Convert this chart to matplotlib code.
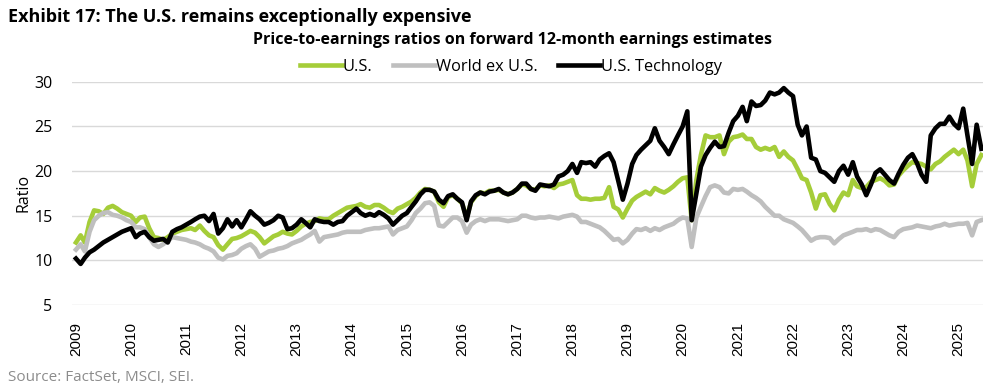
import matplotlib
matplotlib.use("Agg")
import matplotlib.pyplot as plt
import pandas as pd

plt.rcParams['font.family'] = ['Open Sans', 'DejaVu Sans']

# monthly readings, Jan 2009 .. Jun 2025
us = [
    12.0, 12.8, 12.0, 14.3, 15.6, 15.5, 15.2, 15.9, 16.1, 15.8, 15.4, 15.2,
    15.0, 14.3, 14.8, 14.9, 13.6, 12.6, 12.5, 12.3, 12.6, 13.0, 13.2, 13.4,
    13.5, 13.6, 13.4, 13.9, 13.3, 12.8, 12.6, 11.7, 11.2, 11.8, 12.4, 12.5,
    12.7, 13.0, 13.3, 13.1, 12.6, 11.9, 12.3, 12.7, 12.9, 13.2, 13.0, 12.9,
    13.3, 13.8, 14.1, 14.3, 14.4, 14.7, 14.6, 14.6, 15.0, 15.3, 15.6, 15.9,
    16.0, 16.1, 16.3, 16.0, 15.9, 16.2, 16.2, 15.9, 15.5, 15.3, 15.8, 16.0,
    16.3, 16.6, 17.0, 17.6, 18.0, 17.9, 17.7, 16.5, 16.0, 17.1, 17.3, 16.9,
    16.4, 14.8, 16.5, 17.2, 17.6, 17.5, 17.8, 17.8, 17.9, 17.6, 17.4, 17.6,
    18.0, 18.5, 18.4, 18.0, 17.9, 18.4, 18.3, 18.4, 18.1, 18.5, 18.6, 18.8,
    19.0, 17.3, 16.9, 16.9, 16.8, 16.9, 16.9, 17.0, 18.2, 16.0, 15.7, 14.8,
    15.8, 16.7, 17.1, 17.4, 17.7, 17.4, 18.1, 17.8, 17.6, 17.9, 18.3, 18.8,
    19.2, 19.3, 14.5, 19.0, 21.8, 24.0, 23.8, 23.8, 24.0, 21.9, 23.3, 23.8,
    23.9, 24.1, 23.6, 23.6, 22.7, 22.4, 22.6, 22.4, 22.7, 21.6, 22.2, 21.6,
    21.2, 20.2, 19.2, 19.0, 17.6, 15.8, 17.3, 17.4, 16.3, 15.6, 16.8, 17.6,
    17.3, 19.0, 18.3, 18.1, 18.2, 18.8, 19.0, 19.2, 18.9, 18.4, 18.5, 19.5,
    20.1, 20.6, 21.0, 20.9, 20.8, 20.5, 20.2, 20.8, 21.1, 21.6, 22.0, 22.4,
    21.9, 22.4, 21.2, 18.3, 20.8, 21.8,
]

world_ex_us = [
    11.2, 11.8, 11.0, 13.2, 14.5, 15.0, 15.3, 15.4, 15.1, 15.0, 14.8, 14.5,
    14.3, 13.7, 13.7, 13.5, 12.6, 11.8, 11.5, 11.8, 12.2, 12.6, 12.5, 12.4,
    12.3, 12.1, 12.0, 11.8, 11.5, 11.3, 11.0, 10.3, 10.1, 10.5, 10.6, 10.8,
    11.3, 11.6, 11.8, 11.3, 10.4, 10.7, 11.0, 11.1, 11.3, 11.4, 11.6, 11.9,
    12.1, 12.3, 12.6, 12.9, 13.3, 12.1, 12.6, 12.7, 12.8, 12.9, 13.1, 13.2,
    13.2, 13.2, 13.2, 13.4, 13.5, 13.6, 13.6, 13.7, 13.8, 12.9, 13.4, 13.6,
    13.8, 14.5, 15.3, 15.8, 16.4, 16.5, 16.1, 13.9, 13.8, 14.3, 14.8, 14.8,
    14.4, 13.1, 14.0, 14.4, 14.6, 14.4, 14.6, 14.6, 14.6, 14.5, 14.4, 14.5,
    14.6, 15.0, 15.0, 14.8, 14.7, 14.8, 14.8, 14.9, 14.8, 14.7, 14.9, 15.0,
    15.1, 14.9, 14.3, 14.3, 14.1, 13.9, 13.7, 13.3, 12.8, 12.3, 12.4, 11.9,
    12.3, 13.0, 13.5, 13.4, 13.6, 13.3, 13.6, 13.4, 13.7, 13.9, 14.1, 14.5,
    14.8, 14.7, 11.5, 14.8, 16.0, 17.2, 18.2, 18.4, 18.2, 17.6, 17.5, 18.0,
    17.9, 18.0, 17.7, 17.3, 17.0, 16.6, 16.0, 15.5, 15.0, 15.0, 14.6, 14.4,
    14.2, 13.8, 13.4, 12.8, 12.2, 12.5, 12.6, 12.6, 12.5, 11.9, 12.4, 12.8,
    13.0, 13.2, 13.4, 13.4, 13.5, 13.3, 13.5, 13.4, 13.1, 12.8, 12.6, 13.2,
    13.5, 13.6, 13.7, 13.9, 13.8, 13.7, 13.6, 13.8, 13.9, 14.1, 13.9, 14.0,
    14.1, 14.1, 14.2, 12.8, 14.3, 14.5,
]

us_tech = [
    10.2, 9.6, 10.3, 10.9, 11.2, 11.6, 12.0, 12.3, 12.6, 12.9, 13.2, 13.4,
    13.6, 12.6, 13.0, 13.2, 12.6, 12.2, 12.3, 12.4, 12.0, 13.2, 13.5, 13.7,
    14.0, 14.3, 14.6, 14.9, 15.0, 14.4, 15.2, 13.0, 13.6, 14.6, 13.8, 14.5,
    13.7, 14.6, 15.5, 15.0, 14.6, 14.0, 14.2, 14.5, 15.0, 14.8, 13.5, 13.6,
    14.0, 14.6, 14.2, 13.7, 14.6, 14.4, 14.3, 14.3, 14.0, 14.3, 14.4, 15.0,
    15.4, 15.8, 15.3, 15.0, 15.2, 15.0, 15.4, 15.1, 14.7, 14.0, 14.5, 15.0,
    15.3, 16.0, 16.6, 17.4, 17.9, 17.9, 17.7, 16.8, 16.4, 17.2, 17.4, 16.9,
    16.5, 14.5, 16.6, 17.3, 17.6, 17.4, 17.7, 17.8, 18.0, 17.6, 17.4, 17.6,
    18.0, 18.6, 18.6, 18.0, 17.8, 18.5, 18.4, 18.3, 18.5, 19.4, 19.6, 20.0,
    20.8, 19.8, 21.0, 20.9, 21.0, 20.5, 21.3, 21.7, 22.0, 21.0, 18.9, 16.8,
    18.6, 20.8, 21.8, 22.4, 22.9, 23.4, 24.8, 23.4, 22.7, 21.9, 23.0, 24.0,
    25.0, 26.7, 14.5, 17.5, 20.5, 21.8, 22.6, 23.3, 22.7, 22.8, 24.3, 25.6,
    26.2, 27.2, 25.6, 27.8, 27.3, 27.4, 27.9, 28.8, 28.6, 28.8, 29.3, 28.8,
    28.4, 25.2, 24.0, 25.0, 21.5, 21.3, 20.0, 19.8, 19.3, 18.8, 20.0, 20.6,
    19.6, 21.0, 19.4, 18.5, 17.3, 18.5, 19.8, 20.2, 19.6, 19.0, 18.6, 19.7,
    20.7, 21.5, 21.9, 20.9, 19.6, 18.8, 24.0, 24.8, 25.3, 25.3, 26.1, 25.3,
    24.8, 27.0, 24.0, 20.8, 25.2, 22.5,
]

dates = pd.date_range("2009-01-01", periods=len(us), freq="MS")
years = list(range(2009, 2026))

green = "#a5cd39"
grey = "#bfbfbf"

fig = plt.figure(figsize=(9.95, 3.88), dpi=100)
ax = fig.add_axes([0.0724, 0.214, 0.916, 0.575])

ax.plot(dates, us, color=green, lw=3.3, label="U.S.", solid_joinstyle="round")
ax.plot(dates, world_ex_us, color=grey, lw=3.3, label="World ex U.S.", solid_joinstyle="round")
ax.plot(dates, us_tech, color="black", lw=3.3, label="U.S. Technology", solid_joinstyle="round")

ax.set_ylim(5, 30)
ax.set_yticks([5, 10, 15, 20, 25, 30])
ax.set_xlim(pd.Timestamp("2008-12-06"), pd.Timestamp("2025-06-15"))
ax.set_xticks([pd.Timestamp(f"{y}-01-01") for y in years])
ax.set_xticklabels([str(y) for y in years], rotation=90, fontsize=11,
                   family=["Liberation Sans", "DejaVu Sans"])
ax.tick_params(axis="y", labelsize=11.5, length=0, pad=14)
ax.tick_params(axis="x", length=0, pad=12)
ax.grid(axis="y", color="#d9d9d9", lw=1)
ax.set_axisbelow(True)
for s in ax.spines.values():
    s.set_visible(False)
ax.set_ylabel("Ratio", fontsize=11.5, labelpad=2)

fig.text(0.008, 0.955, "Exhibit 17: The U.S. remains exceptionally expensive",
         fontsize=13, fontweight="bold", va="center")
fig.text(0.515, 0.898, "Price-to-earnings ratios on forward 12-month earnings estimates",
         fontsize=11.5, fontweight="bold", ha="center", va="center")
fig.text(0.008, 0.028, "Source: FactSet, MSCI, SEI.", fontsize=11, color="#8c8c8c", va="center")

fig.legend(loc="center", bbox_to_anchor=(0.5136, 0.827), ncol=3, frameon=False,
           fontsize=11.8, handlelength=2.55, handletextpad=0.05, columnspacing=1.25)

fig.savefig("out.png", dpi=100)
